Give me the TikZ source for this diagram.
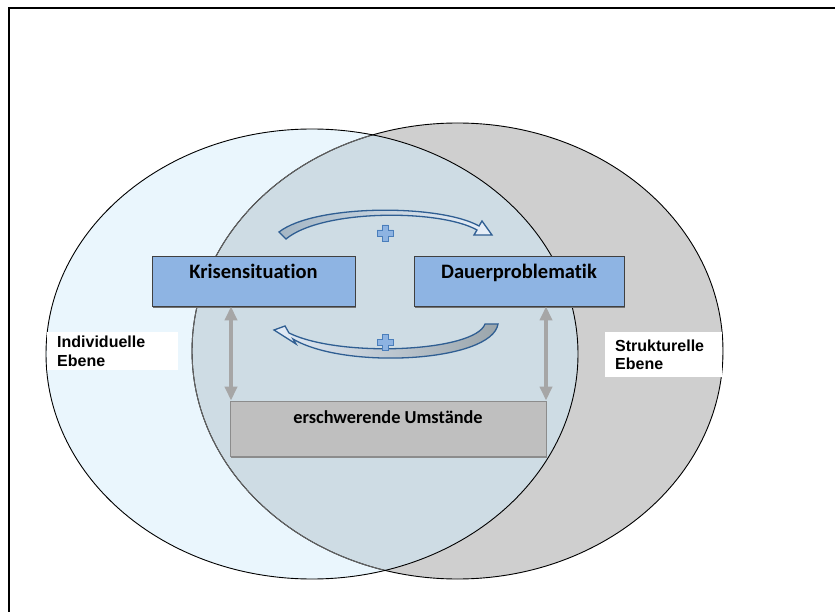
\documentclass[tikz,border=0pt]{standalone}
\usepackage{fontspec}
\newfontfamily\calibrifont[Ligatures=NoCommon]{Carlito}
\newfontfamily\arialfont{Liberation Sans}
\usetikzlibrary{arrows.meta,shadows}
\definecolor{leftfill}{HTML}{EAF6FD}
\definecolor{rightfill}{HTML}{CFCFCF}
\definecolor{overlapfill}{HTML}{CEDCE4}
\definecolor{boxblue}{HTML}{8EB4E3}
\definecolor{boxgrey}{HTML}{BFBFBF}
\definecolor{arrowgrey}{HTML}{A6A6A6}
\definecolor{darkblue}{HTML}{2F5E92}
\definecolor{plusfill}{HTML}{8DB3E2}
\definecolor{plusline}{HTML}{4A7EBB}
\tikzset{
  bluebox/.style={draw=black!75, line width=0.8pt, fill=boxblue, inner xsep=0pt, inner ysep=0pt,
    font=\calibrifont\bfseries\fontsize{20.5}{24}\selectfont,
    drop shadow={shadow xshift=1pt, shadow yshift=-1.5pt, fill=black!55, opacity=1}},
  greybox/.style={draw=black!45, line width=0.8pt, fill=boxgrey, inner xsep=0pt, inner ysep=0pt,
    font=\calibrifont\bfseries\fontsize{18.3}{22}\selectfont,
    drop shadow={shadow xshift=1pt, shadow yshift=-1.5pt, fill=black!45, opacity=1}},
  lvlbox/.style={fill=white, anchor=north west, inner xsep=10pt, inner ysep=0pt, align=left,
    font=\arialfont\bfseries\fontsize{16}{18.5}\selectfont},
  dblarrow/.style={draw=arrowgrey, line width=4pt, {Triangle[width=12pt,length=14pt]}-{Triangle[width=12pt,length=14pt]}},
  blockarrow/.style={draw=darkblue, line width=1.3pt, line join=miter},
  plusstyle/.style={draw=plusline, line width=0.9pt, fill=plusfill},
  plussign/.pic={\path[plusstyle] (-3,-8) -- (3,-8) -- (3,-3) -- (8,-3) -- (8,3) -- (3,3) -- (3,8) -- (-3,8) -- (-3,3) -- (-8,3) -- (-8,-3) -- (-3,-3) -- cycle;}
}
\begin{document}
\begin{tikzpicture}[x=1pt,y=-1pt]
\useasboundingbox (0,0) rectangle (835,612);
% frame
\draw[line width=2pt] (9,612) -- (9,8.5) -- (835,8.5);
% ellipses
\fill[leftfill] (312,354) ellipse [x radius=266pt, y radius=225pt];
\fill[rightfill] (457.5,351) ellipse [x radius=265.5pt, y radius=228pt];
\begin{scope}
  \clip (312,354) ellipse [x radius=266pt, y radius=225pt];
  \fill[overlapfill] (457.5,351) ellipse [x radius=265.5pt, y radius=228pt];
\end{scope}
\draw[line width=0.9pt] (312,354) ellipse [x radius=266pt, y radius=225pt];
\draw[line width=0.9pt] (457.5,351) ellipse [x radius=265.5pt, y radius=228pt];
\begin{scope}
  \clip (312,354) ellipse [x radius=265pt, y radius=224pt];
  \draw[line width=0.9pt, draw=black!60] (457.5,351) ellipse [x radius=265.5pt, y radius=228pt];
\end{scope}
% level labels
\node[lvlbox, text width=111pt, minimum height=38pt] (ind) at (47,332) {Individuelle\\Ebene};
\node[lvlbox, text width=97pt, minimum height=45pt] (str) at (605,332) {Strukturelle\\Ebene};
% boxes
\node[bluebox, minimum width=203pt, text height=23pt, text depth=27pt] (kris) at (253.5,281) {Krisensituation};
\node[bluebox, minimum width=210pt, text height=23pt, text depth=27pt] (dauer) at (519,281) {Dauerproblematik};
\node[greybox, minimum width=316pt, text height=22pt, text depth=33pt] (ers) at (388,428.5) {erschwerende Umstände};
% vertical double arrows
\coordinate (la) at (231,0);
\coordinate (ra) at (546,0);
\draw[dblarrow] (kris.south -| la) -- (ers.north -| la);
\draw[dblarrow] (dauer.south -| ra) -- (ers.north -| ra);
% curved block arrows
\path[blockarrow, left color=black!10!overlapfill!85!darkblue, right color=white!80!boxblue]
  (279,232) .. controls (315,204) and (440,204) .. (479,226) -- (482,221) -- (492,235) -- (474,235) -- (477,230)
  .. controls (440,209) and (322,209) .. (286,239) -- cycle;
\path[blockarrow, left color=white!75!boxblue, right color=black!25!overlapfill]
  (485,324) -- (498,324) .. controls (492,362) and (345,370) .. (293,339) -- (296,344) -- (274,330) -- (285,326) -- (289,333)
  .. controls (340,358) and (475,352) .. (485,324) -- cycle;
% plus signs
\pic at (385,233) {plussign};
\pic at (385,342) {plussign};
\end{tikzpicture}
\end{document}
